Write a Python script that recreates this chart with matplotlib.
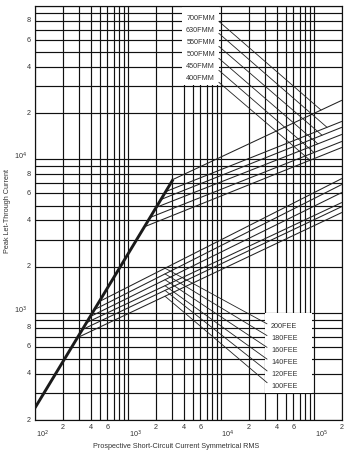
import numpy as np
import matplotlib
matplotlib.use("Agg")
import matplotlib.pyplot as plt
from matplotlib.patches import Rectangle

plt.rcParams['font.family'] = ['Liberation Sans', 'DejaVu Sans']

# ---- data ----
thick_I = [100, 3050]
thick_Ip = [240, 7400]

fmm_names = ["700FMM", "630FMM", "550FMM", "500FMM", "450FMM", "400FMM"]
fmm_start_I = [3050, 2570, 2265, 2000, 1725, 1525]
fmm_start_Ip = [7400, 6180, 5480, 4860, 4180, 3650]
fmm_end_I = [2e5, 2e5, 2e5, 2e5, 2e5, 2e5]
fmm_end_Ip = [24300, 17700, 16200, 14560, 13100, 11970]
fmm_leader_I = [119000, 138000, 122000, 110000, 100000, 90600]

fee_names = ["200FEE", "180FEE", "160FEE", "140FEE", "120FEE", "100FEE"]
fee_start_I = [488, 433, 389, 356, 320, 284]
fee_start_Ip = [1181, 1047, 942, 861, 775, 687]
fee_end_I = [2e5, 2e5, 2e5, 2e5, 2e5, 2e5]
fee_end_Ip = [7510, 6870, 6090, 5240, 4930, 4510]
fee_leader_I = [2500, 2500, 2500, 2500, 2500, 2500]

x_digit_ticks = [2e2, 4e2, 6e2, 2e3, 4e3, 6e3, 2e4, 4e4, 6e4, 2e5]
x_digit_labels = ["2", "4", "6", "2", "4", "6", "2", "4", "6", "2"]
x_decades = [1e2, 1e3, 1e4, 1e5]
x_decade_labels = [r"10$^2$", r"10$^3$", r"10$^4$", r"10$^5$"]

y_digit_ticks = [2e2, 4e2, 6e2, 8e2, 2e3, 4e3, 6e3, 8e3, 2e4, 4e4, 6e4, 8e4]
y_digit_labels = ["2", "4", "6", "8", "2", "4", "6", "8", "2", "4", "6", "8"]
y_decades = [1e3, 1e4]
y_decade_labels = [r"10$^3$", r"10$^4$"]

# ---- figure ----
W, H = 348, 450
fig = plt.figure(figsize=(W / 100, H / 100), dpi=100)
ax = fig.add_axes([35 / W, 30 / H, 307 / W, 414 / H])
ax.set_xscale("log")
ax.set_yscale("log")
ax.set_xlim(1e2, 2e5)
ax.set_ylim(2e2, 1e5)

grid_col = "#111111"
ax.grid(True, which="both", color=grid_col, lw=0.85, zorder=0)
ax.set_axisbelow(True)
for s in ax.spines.values():
    s.set_color(grid_col)
    s.set_linewidth(0.85)

ax.xaxis.set_major_locator(matplotlib.ticker.LogLocator(base=10, subs=(1.0,)))
ax.xaxis.set_minor_locator(matplotlib.ticker.LogLocator(base=10, subs=np.arange(2, 10)))
ax.yaxis.set_major_locator(matplotlib.ticker.LogLocator(base=10, subs=(1.0,)))
ax.yaxis.set_minor_locator(matplotlib.ticker.LogLocator(base=10, subs=np.arange(2, 10)))
ax.tick_params(which="both", length=0, labelbottom=False, labelleft=False)

txt_col = "#333333"
fs = 5.2

# x digit labels
for xv, lab in zip(x_digit_ticks, x_digit_labels):
    ax.annotate(lab, xy=(xv, 0), xycoords=ax.get_xaxis_transform(),
                xytext=(0, -3), textcoords="offset points",
                ha="center", va="top", fontsize=fs, color=txt_col)
for xv, lab in zip(x_decades, x_decade_labels):
    ax.annotate(lab, xy=(xv, 0), xycoords=ax.get_xaxis_transform(),
                xytext=(5, -6), textcoords="offset points",
                ha="center", va="top", fontsize=fs, color=txt_col)
for yv, lab in zip(y_digit_ticks, y_digit_labels):
    ax.annotate(lab, xy=(0, yv), xycoords=ax.get_yaxis_transform(),
                xytext=(-3, 0), textcoords="offset points",
                ha="right", va="center", fontsize=fs, color=txt_col)
for yv, lab in zip(y_decades, y_decade_labels):
    ax.annotate(lab, xy=(0, yv), xycoords=ax.get_yaxis_transform(),
                xytext=(-6, 2), textcoords="offset points",
                ha="right", va="center", fontsize=fs, color=txt_col)

fig.text(176 / W, 1 - 446 / H, "Prospective Short-Circuit Current Symmetrical RMS",
         ha="center", va="center", fontsize=fs, color=txt_col)
fig.text(8 / W, 1 - 211 / H, "Peak Let-Through Current", rotation=90,
         ha="center", va="center", fontsize=fs, color=txt_col)

# curves
curve_col = "#222222"
for i in range(len(fmm_names)):
    ax.plot([fmm_start_I[i], fmm_end_I[i]], [fmm_start_Ip[i], fmm_end_Ip[i]],
            color=curve_col, lw=0.75, zorder=3, solid_capstyle="butt")
for i in range(len(fee_names)):
    ax.plot([fee_start_I[i], fee_end_I[i]], [fee_start_Ip[i], fee_end_Ip[i]],
            color=curve_col, lw=0.75, zorder=3, solid_capstyle="butt")
ax.plot(thick_I, thick_Ip, color="#1a1a1a", lw=2.1, zorder=4, solid_capstyle="butt")

def on_line(x, x0, y0, x1, y1):
    t = (np.log10(x) - np.log10(x0)) / (np.log10(x1) - np.log10(x0))
    return 10 ** (np.log10(y0) + t * (np.log10(y1) - np.log10(y0)))

# label backgrounds
ax.add_patch(Rectangle(((182 - 35) / 307, (420 - 85) / 414), 37 / 307, 79 / 414,
                       transform=ax.transAxes, facecolor="white", edgecolor="none", zorder=2))
ax.add_patch(Rectangle(((265 - 35) / 307, (420 - 393) / 414), 47 / 307, 80 / 414,
                       transform=ax.transAxes, facecolor="white", edgecolor="none", zorder=2))

fmm_label_y = [18, 30, 43, 55, 67, 79]
for i, name in enumerate(fmm_names):
    xt = fmm_leader_I[i]
    yt = on_line(xt, fmm_start_I[i], fmm_start_Ip[i], fmm_end_I[i], fmm_end_Ip[i])
    ax.annotate(name, xy=(xt, yt), xycoords="data",
                xytext=((215 - 35) / 307, (420 - fmm_label_y[i]) / 414), textcoords="axes fraction",
                ha="right", va="center", fontsize=fs, color=txt_col, zorder=5,
                arrowprops=dict(arrowstyle="-", lw=0.6, color=curve_col,
                                shrinkA=1, shrinkB=0, relpos=(1, 0.5)))

fee_label_y = [326, 338, 350, 362, 374, 386]
for i, name in enumerate(fee_names):
    xt = fee_leader_I[i]
    yt = on_line(xt, fee_start_I[i], fee_start_Ip[i], fee_end_I[i], fee_end_Ip[i])
    ax.annotate(name, xy=(xt, yt), xycoords="data",
                xytext=((271 - 35) / 307, (420 - fee_label_y[i]) / 414), textcoords="axes fraction",
                ha="left", va="center", fontsize=fs, color=txt_col, zorder=5,
                arrowprops=dict(arrowstyle="-", lw=0.6, color=curve_col,
                                shrinkA=1, shrinkB=0, relpos=(0, 0.5)))

fig.savefig("out.png", dpi=100, facecolor="white")
